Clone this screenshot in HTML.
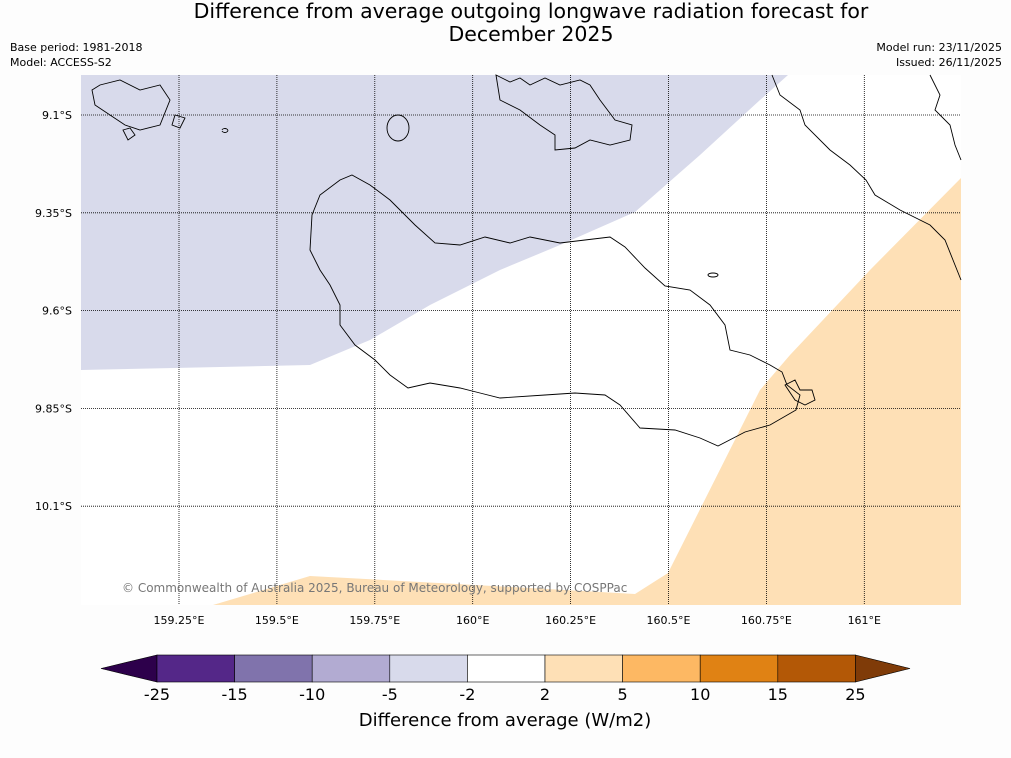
<!DOCTYPE html>
<html><head><meta charset="utf-8">
<style>
body{margin:0;background:#fdfdfd;font-family:"DejaVu Sans","Liberation Sans",sans-serif;}
#wrap{position:relative;width:1011px;height:758px;overflow:hidden;background:#fdfdfd}
.t{position:absolute;color:#000;white-space:nowrap}
</style></head><body>
<div id="wrap">
<div class="t" style="left:0;width:1062px;top:0;text-align:center;font-size:20.5px;line-height:23px">Difference from average outgoing longwave radiation forecast for<br>December 2025</div>
<div class="t" style="left:10px;top:40px;font-size:11px;line-height:15px">Base period: 1981-2018<br>Model: ACCESS-S2</div>
<div class="t" style="right:9px;top:40px;font-size:11px;line-height:15px;text-align:right">Model run: 23/11/2025<br>Issued: 26/11/2025</div>
<svg id="svg" width="1011" height="758" style="position:absolute;left:0;top:0"></svg>
</div>
<script>
const lonTicks=[159.25,159.5,159.75,160,160.25,160.5,160.75,161];
const lonLabels=["159.25°E","159.5°E","159.75°E","160°E","160.25°E","160.5°E","160.75°E","161°E"];
const latTicks=[9.1,9.35,9.6,9.85,10.1];
const latLabels=["9.1°S","9.35°S","9.6°S","9.85°S","10.1°S"];
const levels=["-25","-15","-10","-5","-2","2","5","10","15","25"];
const colors=["#2d004b","#542788","#8073ac","#b2abd2","#d8daeb","#ffffff","#fee0b6","#fdb863","#e08214","#b35806","#7f3b08"];
const X=lon=>179+(lon-159.25)*391.6;
const Y=lat=>115+(lat-9.1)*391.2;
const NS="http://www.w3.org/2000/svg";
const svg=document.getElementById('svg');
function mk(tag,attrs,parent){const e=document.createElementNS(NS,tag);for(const k in attrs)e.setAttribute(k,attrs[k]);(parent||svg).appendChild(e);return e;}
const m=mk('g',{});


mk('rect',{x:81,y:75,width:880,height:530,fill:'#fff'},m);
const purple=mk('polygon',{points:'81,75 788,75 760,100 700,155 635,212 560,245 500,270 430,305 370,340 310,365 81,370',fill:'#d8daeb'},m);


const orange=mk('polygon',{points:'961,178 961,605 213,605 310,576 420,582 530,588 635,594 668,573 760,390 790,355 870,270',fill:'#fee0b6'},m);


const coast=mk('g',{fill:'none',stroke:'#000','stroke-width':0.9},m);


mk('path',{d:'M352,175 L370,185 390,200 415,225 435,243 460,245 485,237 510,243 530,237 560,243 585,240 610,237 625,247 645,268 665,286 690,290 710,305 725,325 730,350 750,355 770,365 782,372 787,385 800,395 796,410 770,425 745,432 718,446 700,438 675,430 640,428 620,405 605,395 575,393 545,395 500,398 480,393 460,388 430,383 408,388 390,375 375,360 355,345 340,325 340,305 330,285 320,270 310,250 312,215 320,195 340,180 Z'},coast);
mk('path',{d:'M496,75 L500,100 520,110 540,125 555,135 555,150 575,148 590,140 610,145 630,140 632,125 615,120 600,100 590,85 580,80 560,85 545,78 530,85 520,78 510,82 Z'},coast);
mk('ellipse',{cx:398,cy:128,rx:11,ry:13},coast);
mk('path',{d:'M772,75 L780,95 800,110 805,125 830,150 850,165 866,180 875,195 900,210 930,225 945,240 955,265 961,280'},coast);
mk('path',{d:'M930,75 L940,95 935,110 950,125 955,145 961,160'},coast);
mk('path',{d:'M92,90 L100,85 120,80 140,90 160,85 170,100 160,125 140,130 125,125 110,115 95,105 Z M123,130 L130,128 135,135 128,140 Z M175,115 L185,118 180,128 172,125 Z M222,130 A3,2 0 1 1 222,131'},coast);
mk('path',{d:'M785,385 L795,380 800,390 812,390 815,400 805,405 795,400 Z'},coast);
mk('ellipse',{cx:713,cy:275,rx:5,ry:2},coast);
const grid=mk('g',{stroke:'#000','stroke-width':0.8,'stroke-dasharray':'1,1'},m);


lonTicks.forEach((v,i)=>{mk('line',{x1:X(v),x2:X(v),y1:75,y2:605},grid);
 const t=mk('text',{x:X(v),y:624,'font-size':11,'text-anchor':'middle','font-family':'DejaVu Sans, sans-serif'});t.textContent=lonLabels[i];
 
 });
latTicks.forEach((v,i)=>{mk('line',{x1:81,x2:961,y1:Y(v),y2:Y(v)},grid);
 const t=mk('text',{x:72,y:Y(v)+4,'font-size':11,'text-anchor':'end','font-family':'DejaVu Sans, sans-serif'});t.textContent=latLabels[i];
 
 });
const cr=mk('text',{x:122,y:592,'font-size':12,fill:'#777','font-family':'DejaVu Sans, sans-serif'});cr.textContent='© Commonwealth of Australia 2025, Bureau of Meteorology, supported by COSPPac';


const cb=mk('g',{});


const x0=157,w=77.6,y0=655,h=27;
mk('polygon',{points:`101,${y0+h/2} ${x0},${y0} ${x0},${y0+h}`,fill:colors[0],stroke:'#000','stroke-width':0.6},cb);
for(let i=0;i<levels.length-1;i++){
 const r=mk('rect',{x:x0+i*w,y:y0,width:w,height:h,fill:colors[i+1],stroke:'#000','stroke-width':0.6},cb);
 
 
}
const xe=x0+(levels.length-1)*w;
mk('polygon',{points:`${xe},${y0} 910,${y0+h/2} ${xe},${y0+h}`,fill:colors[10],stroke:'#000','stroke-width':0.6},cb);
levels.forEach((l,i)=>{const t=mk('text',{x:x0+i*w,y:700,'font-size':16,'text-anchor':'middle','font-family':'DejaVu Sans, sans-serif'},cb);t.textContent=l;
 
 });
const ct=mk('text',{x:505,y:726,'font-size':18,'text-anchor':'middle','font-family':'DejaVu Sans, sans-serif'},cb);ct.textContent='Difference from average (W/m2)';


</script>
</body></html>
